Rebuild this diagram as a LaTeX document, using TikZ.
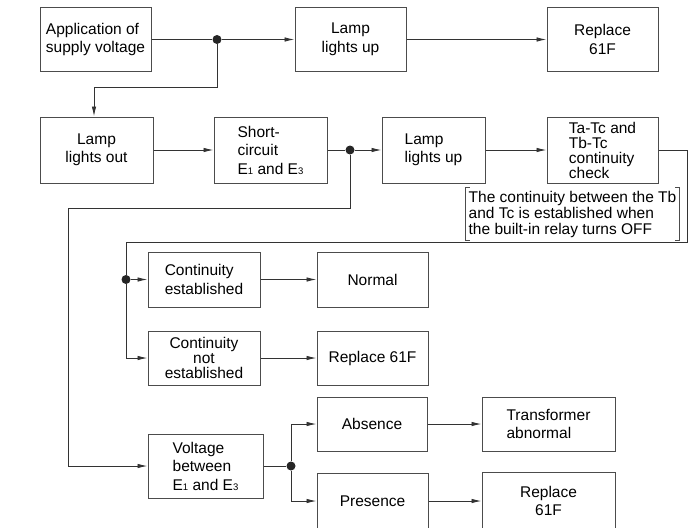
\documentclass[tikz,border=0pt]{standalone}
\usepackage{fontspec}
\setmainfont{Liberation Sans}
\usetikzlibrary{arrows.meta}
\newcommand\lowidx[1]{{\fontsize{9.5}{9.5}\selectfont #1}}

\begin{document}
\begin{tikzpicture}[x=1pt, y=-1pt,
  box/.style 2 args={draw=black!70, line width=1pt, minimum width=#1, minimum height=#2,
    inner sep=2pt, font=\fontsize{15.5}{18.5}\selectfont},
  dot/.style={circle, fill=black!85, inner sep=0pt, minimum size=9pt},
  wire/.style={draw=black!80, line width=0.9pt},
  arr/.style={wire, -{Latex[length=10pt, width=4.5pt]}}]
  \useasboundingbox (0,0) rectangle (700,527);

  % first row
  \node[box={111}{63}, align=left] (apply) at (95.5,39.5) {Application of\\supply voltage};
  \node[box={111}{63}, align=center] (on-1) at (350.5,39.5) {Lamp\\lights up};
  \node[box={111}{63}, align=center] (replace-1) at (602.5,39.5) {Replace\\61F};
  % second row
  \node[box={113}{66}, align=center] (off) at (96.5,150) {Lamp\\lights out};
  \node[box={113}{66}, align=left] (short) at (270.5,150) {Short-\\circuit\\E\lowidx{1} and E\lowidx{3}};
  \node[box={103}{66}, align=left] (on-2) at (433.5,150) {Lamp\\lights up};
  \node[box={111}{66}, align=left, font=\fontsize{15.5}{15}\selectfont] (check) at (602.5,150)
    {Ta-Tc and\\Tb-Tc\\continuity\\check};
  \node[minimum width=213, minimum height=52, inner sep=1pt, align=left,
    font=\fontsize{15.5}{16}\selectfont] (note) at (572.5,214)
    {The continuity between the Tb\\and Tc is established when\\the built-in relay turns OFF};
  \draw[black!70, line width=0.9pt] ([xshift=4]note.north west) -| (note.south west) -- ++(4,0);
  \draw[black!70, line width=0.9pt] ([xshift=-4]note.north east) -| (note.south east) -- ++(-4,0);
  % continuity branch
  \node[box={112}{55}, align=left] (cont) at (204,279.5) {Continuity\\established};
  \node[box={111}{55}] (normal) at (372.5,279.5) {Normal};
  \node[box={112}{54}, align=center, font=\fontsize{15.5}{15}\selectfont] (nocont) at (204,358)
    {Continuity\\not\\established};
  \node[box={111}{54}] (replace-2) at (372.5,358) {Replace 61F};
  % voltage branch
  \node[box={115}{64}, align=left] (volt) at (205.5,466) {Voltage\\between\\E\lowidx{1} and E\lowidx{3}};
  \node[box={110}{54}] (absent) at (372,424) {Absence};
  \node[box={133}{54}, align=left] (trafo) at (548.5,424) {Transformer\\abnormal};
  \node[box={111}{56}] (present) at (372.5,501) {Presence};
  \node[box={133}{58}, align=center] (replace-3) at (548.5,501) {Replace\\61F};

  % junctions
  \node[dot] (J-1) at (217,39.5) {};
  \node[dot] (J-2) at (350,150) {};
  \node[dot] (J-3) at (126,279.5) {};
  \node[dot] (J-4) at (291,466) {};
  \coordinate (c-1) at (94,87);
  \coordinate (c-2) at (68,208);
  \coordinate (c-3) at (687,242);

  \draw[wire] (apply) -- (J-1);
  \draw[wire] (short) -- (J-2);
  \draw[wire] (volt) -- (J-4);
  \draw[arr] (J-1) -- (on-1);
  \draw[arr] (J-2) -- (on-2);
  \draw[arr] (J-1) |- (c-1) -- (c-1 |- off.north);
  \draw[arr] (J-2) |- (c-2) |- (volt);
  \draw[arr] (check) -| (c-3) -| (J-3) |- (nocont);
  \draw[arr] (J-3) -- (cont);
  \draw[arr] (J-4) |- (absent);
  \draw[arr] (J-4) |- (present);
  \foreach \from/\to in {on-1/replace-1, off/short, on-2/check, cont/normal,
    nocont/replace-2, absent/trafo, present/replace-3} {
    \draw[arr] (\from) -- (\to);
  }
\end{tikzpicture}
\end{document}
